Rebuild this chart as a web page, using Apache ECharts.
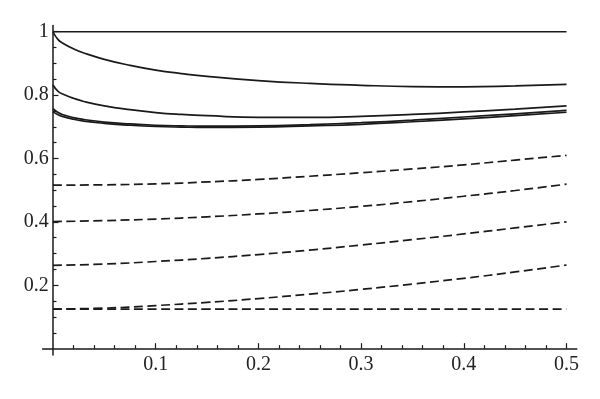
<!DOCTYPE html>
<html>
<head>
<meta charset="utf-8">
<script src="https://cdn.jsdelivr.net/npm/echarts@6/dist/echarts.min.js"></script>
<style>
  html, body { margin: 0; padding: 0; background: #fff; }
  #chart { width: 600px; height: 399px; }
</style>
</head>
<body>
<div id="chart"></div>
<script>
// x positions for the solid curves (denser near 0 where they bend fast)
var xSolid = [0, 0.005, 0.01, 0.02, 0.03, 0.05, 0.075, 0.1, 0.125, 0.15, 0.2, 0.25, 0.3, 0.35, 0.4, 0.45, 0.5];
var solid1 = [1, 1, 1, 1, 1, 1, 1, 1, 1, 1, 1, 1, 1, 1, 1, 1, 1];
var solid2 = [1.0, 0.975, 0.963, 0.946, 0.933, 0.913, 0.894, 0.879, 0.868, 0.859, 0.846, 0.837, 0.831, 0.827, 0.826, 0.829, 0.834];
var solid3 = [0.832, 0.812, 0.803, 0.790, 0.780, 0.766, 0.754, 0.745, 0.739, 0.735, 0.730, 0.730, 0.733, 0.739, 0.747, 0.756, 0.766];
var solid4 = [0.757, 0.745, 0.738, 0.729, 0.723, 0.715, 0.709, 0.705, 0.703, 0.702, 0.703, 0.707, 0.713, 0.721, 0.731, 0.741, 0.752];
var solid5 = [0.748, 0.738, 0.732, 0.724, 0.718, 0.711, 0.705, 0.701, 0.699, 0.698, 0.699, 0.703, 0.708, 0.716, 0.725, 0.735, 0.746];

// dashed curves
var xDash = [0, 0.05, 0.1, 0.15, 0.2, 0.25, 0.3, 0.35, 0.4, 0.45, 0.5];
var dash1 = [0.516, 0.517, 0.520, 0.526, 0.534, 0.544, 0.555, 0.567, 0.580, 0.595, 0.610];
var dash2 = [0.401, 0.404, 0.409, 0.416, 0.425, 0.436, 0.449, 0.464, 0.481, 0.499, 0.519];
var dash3 = [0.263, 0.267, 0.275, 0.285, 0.297, 0.311, 0.327, 0.344, 0.362, 0.381, 0.400];
var dash4 = [0.125, 0.128, 0.136, 0.146, 0.158, 0.172, 0.187, 0.204, 0.222, 0.242, 0.264];
var dash5 = [0.125, 0.125, 0.125, 0.125, 0.125, 0.125, 0.125, 0.125, 0.125, 0.125, 0.125];

var xTicks = [0.1, 0.2, 0.3, 0.4, 0.5];
var yTicks = [0.2, 0.4, 0.6, 0.8, 1];

var ink = '#1a1a1a';

function pairs(xs, ys) {
    var out = [];
    for (var i = 0; i < xs.length; i++) {
        out.push([xs[i], ys[i]]);
    }
    return out;
}

function curve(xs, ys, dashed) {
    return {
        type: 'line',
        data: pairs(xs, ys),
        showSymbol: false,
        symbol: 'none',
        smooth: 0.5,
        lineStyle: {
            color: ink,
            width: 1.7,
            type: dashed ? [9, 4.5] : 'solid'
        },
        silent: true
    };
}

// only label the listed tick values
function tickText(list) {
    return function (v) {
        for (var i = 0; i < list.length; i++) {
            if (Math.abs(list[i] - v) < 1e-6) return String(list[i]);
        }
        return '';
    };
}

var myChart = echarts.init(document.getElementById('chart'));

var option = {
    animation: false,
    backgroundColor: '#fff',
    textStyle: { fontFamily: 'Liberation Serif' },
    grid: {
        left: 42.7,
        right: 23.2,
        top: 25.4,
        bottom: 44,
        outerBoundsMode: 'none'
    },
    xAxis: {
        type: 'value',
        min: -0.01,
        max: 0.51,
        axisLine: { onZero: true, lineStyle: { color: ink, width: 1.5 } },
        axisTick: { inside: true, length: 5.5, customValues: xTicks, lineStyle: { color: ink, width: 1.2 } },
        minorTick: { show: true, splitNumber: 5, length: 3.5, lineStyle: { color: ink, width: 1.2 } },
        axisLabel: {
            margin: 0,
            showMinLabel: false,
            showMaxLabel: false,
            formatter: tickText(xTicks),
            fontFamily: 'Liberation Serif',
            fontSize: 20,
            color: '#222'
        },
        splitLine: { show: false }
    },
    yAxis: {
        type: 'value',
        min: -0.02,
        max: 1.02,
        axisLine: { onZero: true, lineStyle: { color: ink, width: 1.5 } },
        axisTick: { inside: true, length: 5.5, customValues: yTicks, lineStyle: { color: ink, width: 1.2 } },
        minorTick: { show: true, splitNumber: 4, length: 3.5, lineStyle: { color: ink, width: 1.2 } },
        axisLabel: {
            margin: -6,
            showMinLabel: false,
            showMaxLabel: false,
            formatter: tickText(yTicks),
            fontFamily: 'Liberation Serif',
            fontSize: 20,
            color: '#222'
        },
        splitLine: { show: false }
    },
    series: [
        curve(xSolid, solid1, false),
        curve(xSolid, solid2, false),
        curve(xSolid, solid3, false),
        curve(xSolid, solid4, false),
        curve(xSolid, solid5, false),
        curve(xDash, dash1, true),
        curve(xDash, dash2, true),
        curve(xDash, dash3, true),
        curve(xDash, dash4, true),
        curve(xDash, dash5, true)
    ]
};

myChart.setOption(option);
</script>
</body>
</html>
